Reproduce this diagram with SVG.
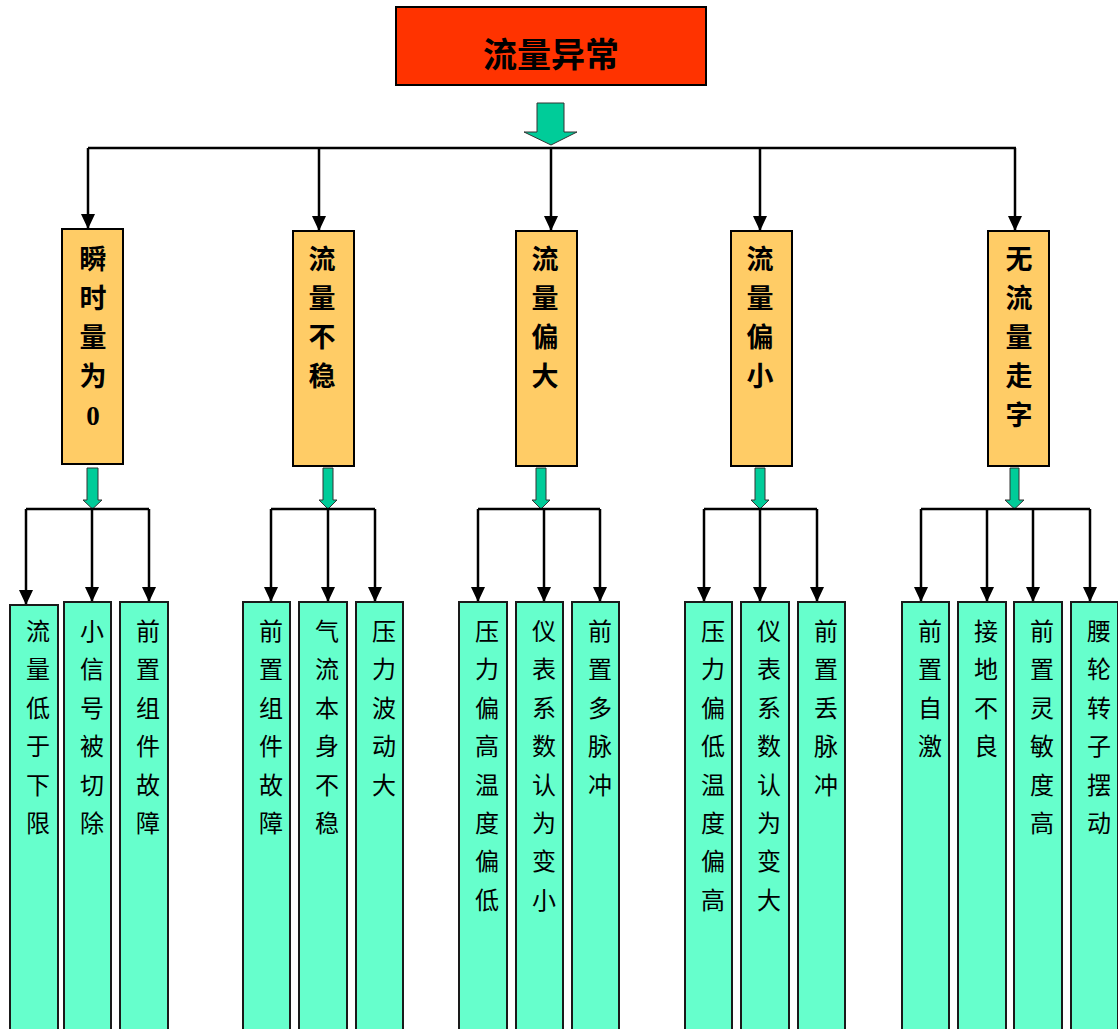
<svg xmlns="http://www.w3.org/2000/svg" width="1118" height="1029" viewBox="0 0 1118 1029">
<defs>
<marker id="ah" markerUnits="userSpaceOnUse" markerWidth="16" markerHeight="14" refX="15" refY="7" orient="auto">
<path d="M0,0 L15,7 L0,14 Z" fill="#000"/>
</marker>
<style>
.root{fill:#FF3300;stroke:#000;stroke-width:2}
.l2{fill:#FFCC66;stroke:#000;stroke-width:2}
.leaf{fill:#66FFCC;stroke:#1a1a1a;stroke-width:2}
.ga{fill:#00CC99;stroke:#333;stroke-width:1}
.ln{fill:none;stroke:#000;stroke-width:2.5}
.arr{fill:none;stroke:#000;stroke-width:2.5;marker-end:url(#ah)}
.t0{font-family:"Liberation Serif","Noto Sans CJK SC",serif;font-size:34px;font-weight:bold;text-anchor:middle;fill:#000}
.t2{font-family:"Liberation Serif","Noto Sans CJK SC",serif;font-size:27px;font-weight:bold;text-anchor:middle;fill:#000}
.t3{font-family:"Liberation Serif","Noto Sans CJK SC",serif;font-size:24px;text-anchor:middle;fill:#000}
</style>
</defs>
<rect width="1118" height="1029" fill="#fff"/>

<g id="connectors">
<polygon class="ga" points="537,103 564,103 564,132 577,132 551,145 524,132 537,132"/>
<line class="ln" x1="88" y1="148" x2="1016" y2="148"/>
<line class="arr" x1="88" y1="148" x2="88" y2="229"/>
<line class="arr" x1="319" y1="148" x2="319" y2="231"/>
<line class="arr" x1="551" y1="148" x2="551" y2="231"/>
<line class="arr" x1="760" y1="148" x2="760" y2="231"/>
<line class="arr" x1="1015" y1="148" x2="1015" y2="231"/>

<polygon class="ga" points="87,468 98,468 98,500 102,500 92.5,509 83,500 87,500"/>
<polygon class="ga" points="323,468 333,468 333,500 337,500 328,509 319,500 323,500"/>
<polygon class="ga" points="536,468 546,468 546,500 550,500 541,509 532,500 536,500"/>
<polygon class="ga" points="755,468 765,468 765,500 769,500 760,509 751,500 755,500"/>
<polygon class="ga" points="1010,468 1019,468 1019,500 1024,500 1014.5,509 1005,500 1010,500"/>

<line class="ln" x1="26" y1="509" x2="149" y2="509"/>
<line class="arr" x1="26" y1="509" x2="26" y2="605"/>
<line class="arr" x1="92" y1="509" x2="92" y2="602"/>
<line class="arr" x1="149" y1="509" x2="149" y2="602"/>

<line class="ln" x1="271" y1="509" x2="375" y2="509"/>
<line class="arr" x1="271" y1="509" x2="271" y2="602"/>
<line class="arr" x1="328" y1="509" x2="328" y2="602"/>
<line class="arr" x1="375" y1="509" x2="375" y2="602"/>

<line class="ln" x1="478" y1="509" x2="600" y2="509"/>
<line class="arr" x1="478" y1="509" x2="478" y2="602"/>
<line class="arr" x1="544" y1="509" x2="544" y2="602"/>
<line class="arr" x1="600" y1="509" x2="600" y2="602"/>

<line class="ln" x1="704" y1="509" x2="817" y2="509"/>
<line class="arr" x1="704" y1="509" x2="704" y2="602"/>
<line class="arr" x1="760" y1="509" x2="760" y2="602"/>
<line class="arr" x1="817" y1="509" x2="817" y2="602"/>

<line class="ln" x1="921" y1="509" x2="1090" y2="509"/>
<line class="arr" x1="921" y1="509" x2="921" y2="602"/>
<line class="arr" x1="987" y1="509" x2="987" y2="602"/>
<line class="arr" x1="1033" y1="509" x2="1033" y2="602"/>
<line class="arr" x1="1090" y1="509" x2="1090" y2="602"/>
</g>

<g id="root">
<rect class="root" x="396" y="7" width="310" height="78"/>
<text class="t0" x="551" y="67">流量异常</text>
</g>

<g id="n1"><rect class="l2" x="62" y="229" width="61" height="235"/>
<text class="t2"><tspan x="93" y="269">瞬</tspan><tspan x="93" dy="39">时</tspan><tspan x="93" dy="39">量</tspan><tspan x="93" dy="39">为</tspan><tspan x="93" dy="39">0</tspan></text></g>
<g id="n2"><rect class="l2" x="293" y="231" width="61" height="235"/>
<text class="t2"><tspan x="322" y="269">流</tspan><tspan x="322" dy="39">量</tspan><tspan x="322" dy="39">不</tspan><tspan x="322" dy="39">稳</tspan></text></g>
<g id="n3"><rect class="l2" x="516" y="231" width="61" height="235"/>
<text class="t2"><tspan x="545" y="269">流</tspan><tspan x="545" dy="39">量</tspan><tspan x="545" dy="39">偏</tspan><tspan x="545" dy="39">大</tspan></text></g>
<g id="n4"><rect class="l2" x="731" y="231" width="61" height="235"/>
<text class="t2"><tspan x="760" y="269">流</tspan><tspan x="760" dy="39">量</tspan><tspan x="760" dy="39">偏</tspan><tspan x="760" dy="39">小</tspan></text></g>
<g id="n5"><rect class="l2" x="988" y="231" width="61" height="235"/>
<text class="t2"><tspan x="1019" y="269">无</tspan><tspan x="1019" dy="39">流</tspan><tspan x="1019" dy="39">量</tspan><tspan x="1019" dy="39">走</tspan><tspan x="1019" dy="39">字</tspan></text></g>

<g id="leaf1a"><rect class="leaf" x="10" y="605" width="48" height="440"/>
<text class="t3"><tspan x="38" y="640">流</tspan><tspan x="38" dy="38.4">量</tspan><tspan x="38" dy="38.4">低</tspan><tspan x="38" dy="38.4">于</tspan><tspan x="38" dy="38.4">下</tspan><tspan x="38" dy="38.4">限</tspan></text></g>
<g id="leaf1b"><rect class="leaf" x="64" y="602" width="47" height="440"/>
<text class="t3"><tspan x="92" y="640">小</tspan><tspan x="92" dy="38.4">信</tspan><tspan x="92" dy="38.4">号</tspan><tspan x="92" dy="38.4">被</tspan><tspan x="92" dy="38.4">切</tspan><tspan x="92" dy="38.4">除</tspan></text></g>
<g id="leaf1c"><rect class="leaf" x="120" y="602" width="48" height="440"/>
<text class="t3"><tspan x="148" y="640">前</tspan><tspan x="148" dy="38.4">置</tspan><tspan x="148" dy="38.4">组</tspan><tspan x="148" dy="38.4">件</tspan><tspan x="148" dy="38.4">故</tspan><tspan x="148" dy="38.4">障</tspan></text></g>

<g id="leaf2a"><rect class="leaf" x="243" y="602" width="47" height="440"/>
<text class="t3"><tspan x="271" y="640">前</tspan><tspan x="271" dy="38.4">置</tspan><tspan x="271" dy="38.4">组</tspan><tspan x="271" dy="38.4">件</tspan><tspan x="271" dy="38.4">故</tspan><tspan x="271" dy="38.4">障</tspan></text></g>
<g id="leaf2b"><rect class="leaf" x="299" y="602" width="48" height="440"/>
<text class="t3"><tspan x="327" y="640">气</tspan><tspan x="327" dy="38.4">流</tspan><tspan x="327" dy="38.4">本</tspan><tspan x="327" dy="38.4">身</tspan><tspan x="327" dy="38.4">不</tspan><tspan x="327" dy="38.4">稳</tspan></text></g>
<g id="leaf2c"><rect class="leaf" x="356" y="602" width="47" height="440"/>
<text class="t3"><tspan x="384" y="640">压</tspan><tspan x="384" dy="38.4">力</tspan><tspan x="384" dy="38.4">波</tspan><tspan x="384" dy="38.4">动</tspan><tspan x="384" dy="38.4">大</tspan></text></g>

<g id="leaf3a"><rect class="leaf" x="459" y="602" width="48" height="440"/>
<text class="t3"><tspan x="487" y="640">压</tspan><tspan x="487" dy="38.4">力</tspan><tspan x="487" dy="38.4">偏</tspan><tspan x="487" dy="38.4">高</tspan><tspan x="487" dy="38.4">温</tspan><tspan x="487" dy="38.4">度</tspan><tspan x="487" dy="38.4">偏</tspan><tspan x="487" dy="38.4">低</tspan></text></g>
<g id="leaf3b"><rect class="leaf" x="516" y="602" width="47" height="440"/>
<text class="t3"><tspan x="544" y="640">仪</tspan><tspan x="544" dy="38.4">表</tspan><tspan x="544" dy="38.4">系</tspan><tspan x="544" dy="38.4">数</tspan><tspan x="544" dy="38.4">认</tspan><tspan x="544" dy="38.4">为</tspan><tspan x="544" dy="38.4">变</tspan><tspan x="544" dy="38.4">小</tspan></text></g>
<g id="leaf3c"><rect class="leaf" x="572" y="602" width="47" height="440"/>
<text class="t3"><tspan x="600" y="640">前</tspan><tspan x="600" dy="38.4">置</tspan><tspan x="600" dy="38.4">多</tspan><tspan x="600" dy="38.4">脉</tspan><tspan x="600" dy="38.4">冲</tspan></text></g>

<g id="leaf4a"><rect class="leaf" x="685" y="602" width="47" height="440"/>
<text class="t3"><tspan x="713" y="640">压</tspan><tspan x="713" dy="38.4">力</tspan><tspan x="713" dy="38.4">偏</tspan><tspan x="713" dy="38.4">低</tspan><tspan x="713" dy="38.4">温</tspan><tspan x="713" dy="38.4">度</tspan><tspan x="713" dy="38.4">偏</tspan><tspan x="713" dy="38.4">高</tspan></text></g>
<g id="leaf4b"><rect class="leaf" x="741" y="602" width="48" height="440"/>
<text class="t3"><tspan x="769" y="640">仪</tspan><tspan x="769" dy="38.4">表</tspan><tspan x="769" dy="38.4">系</tspan><tspan x="769" dy="38.4">数</tspan><tspan x="769" dy="38.4">认</tspan><tspan x="769" dy="38.4">为</tspan><tspan x="769" dy="38.4">变</tspan><tspan x="769" dy="38.4">大</tspan></text></g>
<g id="leaf4c"><rect class="leaf" x="798" y="602" width="47" height="440"/>
<text class="t3"><tspan x="826" y="640">前</tspan><tspan x="826" dy="38.4">置</tspan><tspan x="826" dy="38.4">丢</tspan><tspan x="826" dy="38.4">脉</tspan><tspan x="826" dy="38.4">冲</tspan></text></g>

<g id="leaf5a"><rect class="leaf" x="902" y="602" width="47" height="440"/>
<text class="t3"><tspan x="930" y="640">前</tspan><tspan x="930" dy="38.4">置</tspan><tspan x="930" dy="38.4">自</tspan><tspan x="930" dy="38.4">激</tspan></text></g>
<g id="leaf5b"><rect class="leaf" x="958" y="602" width="48" height="440"/>
<text class="t3"><tspan x="986" y="640">接</tspan><tspan x="986" dy="38.4">地</tspan><tspan x="986" dy="38.4">不</tspan><tspan x="986" dy="38.4">良</tspan></text></g>
<g id="leaf5c"><rect class="leaf" x="1014" y="602" width="48" height="440"/>
<text class="t3"><tspan x="1042" y="640">前</tspan><tspan x="1042" dy="38.4">置</tspan><tspan x="1042" dy="38.4">灵</tspan><tspan x="1042" dy="38.4">敏</tspan><tspan x="1042" dy="38.4">度</tspan><tspan x="1042" dy="38.4">高</tspan></text></g>
<g id="leaf5d"><rect class="leaf" x="1071" y="602" width="47" height="440"/>
<text class="t3"><tspan x="1099" y="640">腰</tspan><tspan x="1099" dy="38.4">轮</tspan><tspan x="1099" dy="38.4">转</tspan><tspan x="1099" dy="38.4">子</tspan><tspan x="1099" dy="38.4">摆</tspan><tspan x="1099" dy="38.4">动</tspan></text></g>
</svg>
